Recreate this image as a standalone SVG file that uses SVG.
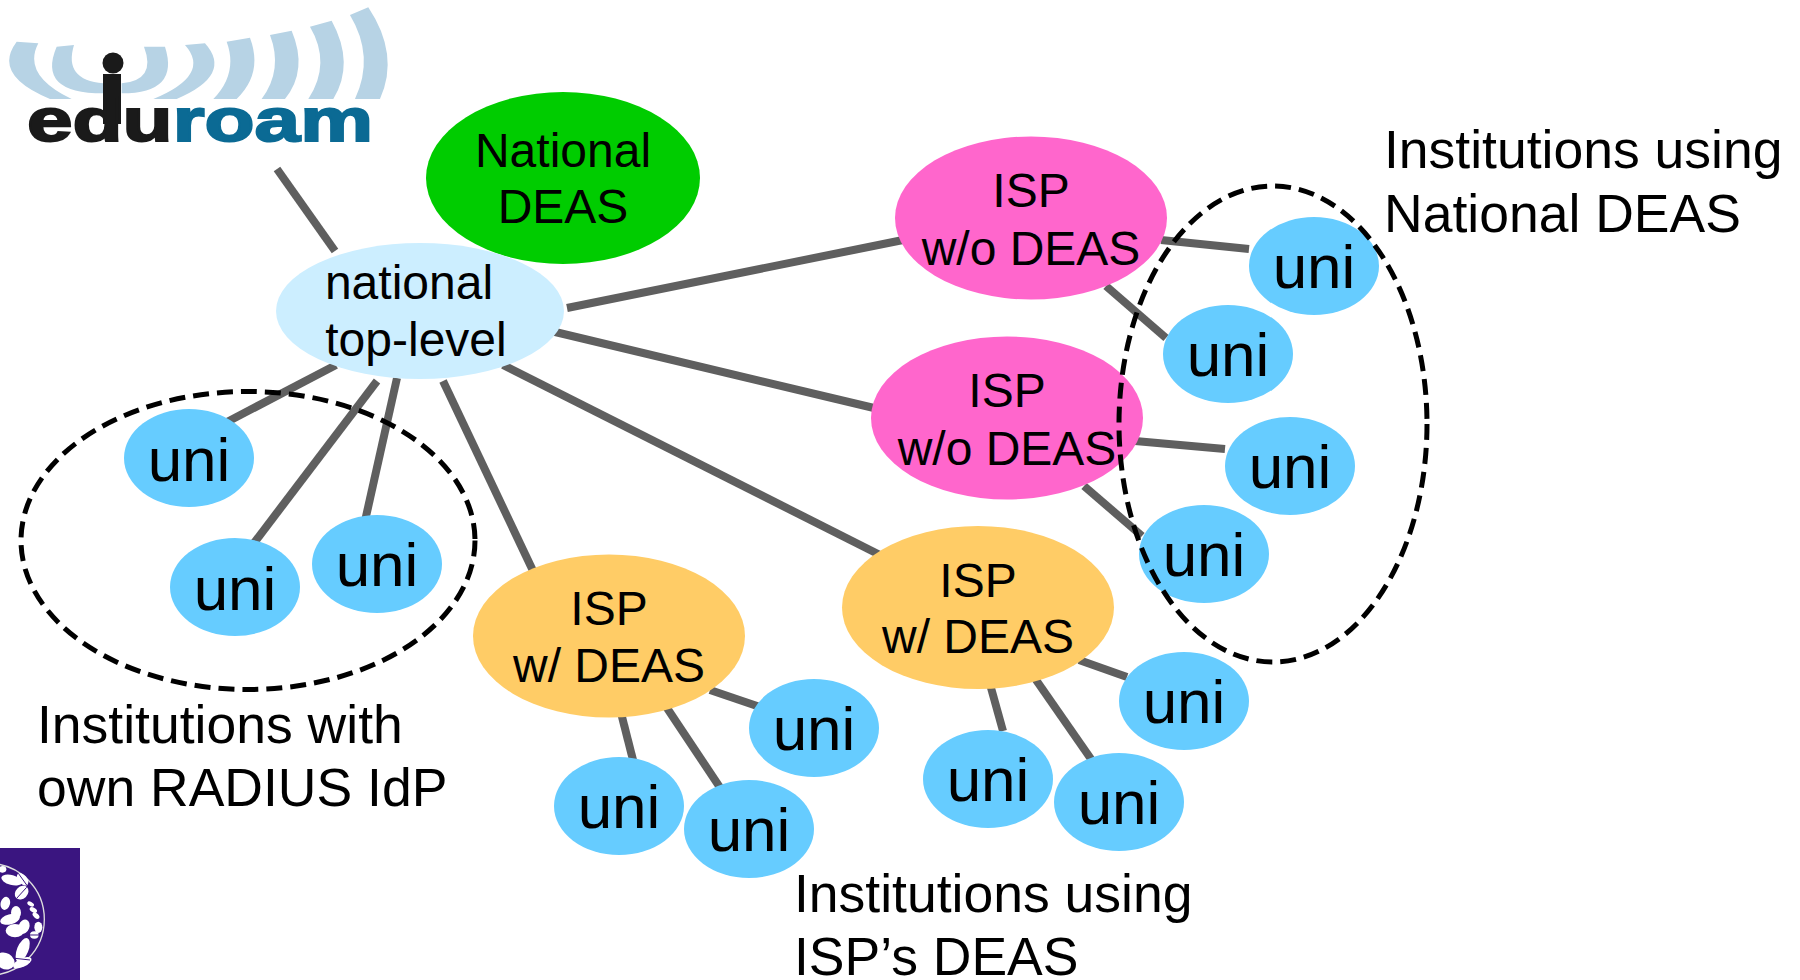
<svg xmlns="http://www.w3.org/2000/svg" width="1800" height="980" viewBox="0 0 1800 980">
<style>
text{font-family:"Liberation Sans",Arial,sans-serif;fill:#000}
.m{text-anchor:middle;font-size:48px}
.u{text-anchor:middle;font-size:62px}
.l{font-size:53.5px}
.c line{stroke:#5f5f5f;stroke-width:8}
.uni{fill:#66ccff}
.isp0{fill:#ff66cc}
.isp1{fill:#ffcc66}
.d{fill:none;stroke:#000;stroke-width:5;stroke-dasharray:16 8}
.w{fill:#b7d3e5}
.s{fill:#fff}
.r{stroke:#3a1580;stroke-width:3;fill:none}
</style>
<defs><ellipse id="ue" rx="65" ry="49" class="uni"/></defs>
<rect width="1800" height="980" fill="#fff"/>
<g id="logo">
<g transform="scale(.3333)" class="w">
<path d="M50 125L115 130Q65 225 215 297L150 297Q-25 225 50 125Z"/>
<path d="M170 140L222 135Q190 240 310 250L310 280Q110 280 170 140Z"/>
<path d="M495 140L432 140Q470 240 365 250L365 280Q540 280 495 140Z"/>
<path d="M555 135L615 130Q700 225 530 297L460 297Q635 225 555 135Z"/>
<path d="M680 125L750 113Q790 220 710 297L640 297Q715 220 680 125Z"/>
<path d="M810 105L875 92Q925 210 855 297L785 297Q850 210 810 105Z"/>
<path d="M930 80L995 62Q1065 190 1000 297L925 297Q995 190 930 80Z"/>
<path d="M1050 45L1105 22Q1200 165 1140 297L1065 297Q1125 170 1050 45Z"/>
</g>
<circle cx="113" cy="63" r="10.500" fill="#1a1a1a"/>
<rect x="103" y="74" width="18" height="50" fill="#1a1a1a"/>
<text x="27" y="141" font-size="62" font-weight="700" textLength="346" lengthAdjust="spacingAndGlyphs" stroke-width="2"><tspan fill="#1a1a1a" stroke="#1a1a1a">edu</tspan><tspan fill="#0b6a94" stroke="#0b6a94">roam</tspan></text>
</g>
<g id="seal">
<rect x="-1" y="848" width="81" height="133" fill="#3a1580"/>
<g transform="translate(0 830) scale(.3333)">
<circle cx="-35" cy="268" r="168" fill="none" stroke="#ddd" stroke-width="4"/>
<g class="s">
<ellipse cx="35" cy="150" rx="32" ry="15" transform="rotate(15 35 150)"/>
<ellipse cx="68" cy="148" rx="22" ry="13" transform="rotate(50 68 148)"/>
<ellipse cx="65" cy="188" rx="23" ry="18" transform="rotate(-45 65 188)"/>
<ellipse cx="8" cy="118" rx="11" ry="10"/>
<ellipse cx="16" cy="220" rx="14" ry="20" transform="rotate(15 16 220)"/>
<ellipse cx="30" cy="268" rx="30" ry="15" transform="rotate(-15 30 268)"/>
<ellipse cx="48" cy="248" rx="15" ry="20"/>
<ellipse cx="45" cy="302" rx="28" ry="20"/>
<ellipse cx="72" cy="290" rx="16" ry="22" transform="rotate(20 72 290)"/>
<ellipse cx="68" cy="360" rx="38" ry="17" transform="rotate(-68 68 360)"/>
<ellipse cx="67" cy="398" rx="30" ry="13" transform="rotate(-25 67 398)"/>
<ellipse cx="15" cy="393" rx="30" ry="24" transform="rotate(30 15 393)"/>
<ellipse cx="92" cy="222" rx="11" ry="6" transform="rotate(30 92 222)"/>
<ellipse cx="100" cy="240" rx="12" ry="7" transform="rotate(30 100 240)"/>
<ellipse cx="108" cy="257" rx="12" ry="7" transform="rotate(40 108 257)"/>
<ellipse cx="115" cy="292" rx="12" ry="17"/>
<ellipse cx="103" cy="315" rx="13" ry="11"/>
</g>
<path class="r" d="M50 205L80 172M55 130L80 165M85 315H120M45 385L90 390"/>
</g>
</g>
<g id="connectors" class="c">
<line x1="277" y1="169" x2="335" y2="251"/>
<line x1="567" y1="308" x2="903" y2="240"/>
<line x1="551" y1="331" x2="874" y2="408"/>
<line x1="503" y1="365" x2="880" y2="555"/>
<line x1="443" y1="381" x2="535" y2="575"/>
<line x1="336" y1="365" x2="227" y2="422"/>
<line x1="377" y1="381" x2="254" y2="543"/>
<line x1="397" y1="378" x2="365" y2="521"/>
<line x1="1161" y1="240" x2="1249" y2="249"/>
<line x1="1106" y1="286" x2="1166" y2="338"/>
<line x1="1135" y1="441" x2="1225" y2="449"/>
<line x1="1084" y1="486" x2="1142" y2="536"/>
<line x1="1079" y1="660" x2="1127" y2="677"/>
<line x1="988" y1="677" x2="1003" y2="731"/>
<line x1="1034" y1="677" x2="1091" y2="759"/>
<line x1="710" y1="690" x2="760" y2="707"/>
<line x1="619" y1="705" x2="633" y2="760"/>
<line x1="665" y1="705" x2="721" y2="789"/>
</g>
<g id="national-deas"><ellipse cx="563" cy="178" rx="137" ry="86" fill="#00cc00"/><text class="m" x="563" y="167">National</text><text class="m" x="563" y="223">DEAS</text></g>
<g id="top-level"><ellipse cx="420" cy="311" rx="144" ry="68" fill="#cceeff"/><text class="m" x="409" y="299">national</text><text class="m" x="416" y="356">top-level</text></g>
<g id="isp-a"><ellipse cx="1031" cy="218" rx="136" ry="81.500" class="isp0"/><text class="m" x="1031" y="207">ISP</text><text class="m" x="1031" y="265">w/o DEAS</text></g>
<g id="isp-b"><ellipse cx="1007" cy="418" rx="136" ry="81.500" class="isp0"/><text class="m" x="1007" y="407">ISP</text><text class="m" x="1007" y="465">w/o DEAS</text></g>
<g id="isp-c"><ellipse cx="978" cy="607.500" rx="136" ry="81.500" class="isp1"/><text class="m" x="978" y="597">ISP</text><text class="m" x="978" y="653">w/ DEAS</text></g>
<g id="isp-d"><ellipse cx="609" cy="636" rx="136" ry="81.500" class="isp1"/><text class="m" x="609" y="625">ISP</text><text class="m" x="609" y="682">w/ DEAS</text></g>
<g id="uni-1"><use href="#ue" x="189" y="458"/><text class="u" x="189" y="481">uni</text></g>
<g id="uni-2"><use href="#ue" x="235" y="587"/><text class="u" x="235" y="610">uni</text></g>
<g id="uni-3"><use href="#ue" x="377" y="564"/><text class="u" x="377" y="586">uni</text></g>
<g id="uni-4"><use href="#ue" x="814" y="728"/><text class="u" x="814" y="750">uni</text></g>
<g id="uni-5"><use href="#ue" x="619" y="806"/><text class="u" x="619" y="828">uni</text></g>
<g id="uni-6"><use href="#ue" x="749" y="829"/><text class="u" x="749" y="851">uni</text></g>
<g id="uni-7"><use href="#ue" x="1184" y="701"/><text class="u" x="1184" y="723">uni</text></g>
<g id="uni-8"><use href="#ue" x="988" y="779"/><text class="u" x="988" y="801">uni</text></g>
<g id="uni-9"><use href="#ue" x="1119" y="802"/><text class="u" x="1119" y="824">uni</text></g>
<g id="uni-10"><use href="#ue" x="1314" y="266"/><text class="u" x="1314" y="288">uni</text></g>
<g id="uni-11"><use href="#ue" x="1228" y="354"/><text class="u" x="1228" y="376">uni</text></g>
<g id="uni-12"><use href="#ue" x="1290" y="466"/><text class="u" x="1290" y="488">uni</text></g>
<g id="uni-13"><use href="#ue" x="1204" y="554"/><text class="u" x="1204" y="576">uni</text></g>
<g id="group-own"><ellipse class="d" cx="248" cy="540.500" rx="227" ry="149"/></g>
<g id="group-national"><ellipse class="d" cx="1273" cy="424" rx="154" ry="238"/></g>
<g id="labels">
<text class="l" x="1384" y="168">Institutions using</text>
<text class="l" x="1384" y="232">National DEAS</text>
<text class="l" x="37" y="743">Institutions with</text>
<text class="l" x="37" y="806">own RADIUS IdP</text>
<text class="l" x="794" y="912">Institutions using</text>
<text class="l" x="794" y="975">ISP’s DEAS</text>
</g>
</svg>
